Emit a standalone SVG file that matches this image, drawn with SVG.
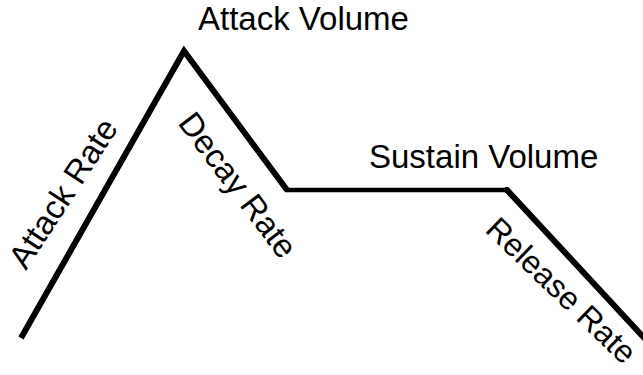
<svg xmlns="http://www.w3.org/2000/svg" width="643" height="375" viewBox="0 0 643 375">
<style>
.lbl{font-family:"Liberation Sans",Arial,sans-serif;font-size:33px;fill:#000}
.env{fill:none;stroke:#000;stroke-width:6;stroke-linejoin:miter;stroke-miterlimit:10}
</style>
<rect width="643" height="375" fill="#fff"/>
<g id="envelope">
<path class="env" d="M21 338 L184 51 L287 190"/>
<path class="env" style="stroke-width:4.5" d="M285 190 L507 190"/>
<path class="env" d="M505 190 L507 190 L648 342"/>
</g>
<g id="labels">
<text class="lbl" x="198" y="30">Attack Volume</text>
<text class="lbl" x="369" y="168">Sustain Volume</text>
<text class="lbl" transform="translate(26 271) rotate(-57)">Attack Rate</text>
<text class="lbl" transform="translate(177 123) rotate(53)">Decay Rate</text>
<text class="lbl" style="font-size:32px" transform="translate(484 231) rotate(44)">Release Rate</text>
</g>
</svg>
